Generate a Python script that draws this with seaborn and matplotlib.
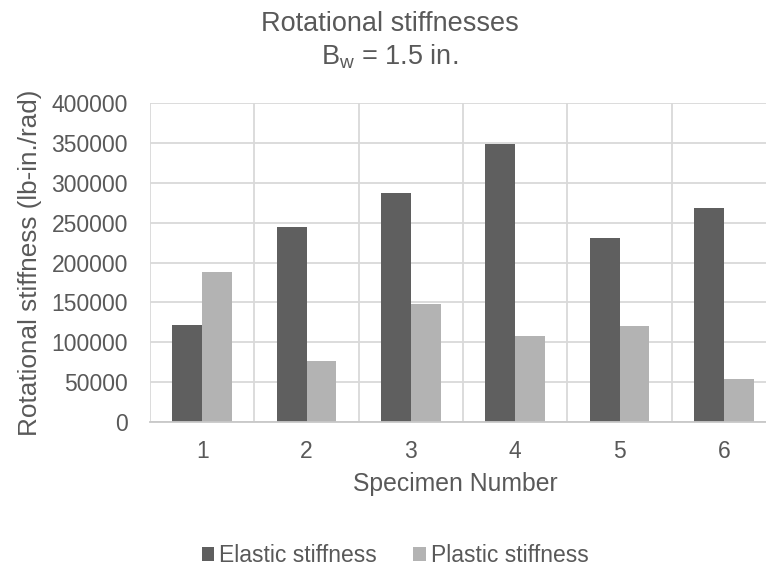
import matplotlib
matplotlib.use("Agg")
import matplotlib.pyplot as plt
from matplotlib.patches import Patch
from matplotlib.ticker import FixedLocator
import seaborn as sns
import pandas as pd

# Rotational stiffness per specimen (lb-in./rad)
specimens = ["1", "2", "3", "4", "5", "6"]
elastic = [122000, 244000, 287500, 348500, 231000, 268500]
plastic = [188500, 76000, 147500, 107500, 121000, 53500]
series_names = ["Elastic stiffness", "Plastic stiffness"]
y_ticks = [0, 50000, 100000, 150000, 200000, 250000, 300000, 350000, 400000]

df = pd.DataFrame({
    "Specimen": specimens * 2,
    "Stiffness": elastic + plastic,
    "Series": [series_names[0]] * len(specimens) + [series_names[1]] * len(specimens),
})

sns.set_theme(style="white")
plt.rcParams["font.family"] = ["Liberation Sans", "DejaVu Sans"]
plt.rcParams["mathtext.fontset"] = "custom"
plt.rcParams["mathtext.rm"] = "Liberation Sans"

TEXT = "#595959"
GRID = "#d9d9d9"
palette = {series_names[0]: "#5f5f5f", series_names[1]: "#b3b3b3"}

fig = plt.figure(figsize=(7.66, 5.71), dpi=100)
ax = fig.add_axes([150 / 766, 1 - 422 / 571, 626 / 766, 319 / 571])

sns.barplot(data=df, x="Specimen", y="Stiffness", hue="Series", palette=palette,
            width=0.57, gap=0, saturation=1, linewidth=0, legend=False, ax=ax)

ax.set_xlim(-0.5, len(specimens) - 0.5)
ax.set_ylim(0, 400000)
ax.set_yticks(y_ticks)
ax.set_yticklabels([str(v) for v in y_ticks])
ax.xaxis.set_minor_locator(FixedLocator([i - 0.5 for i in range(len(specimens) + 1)]))
ax.grid(True, axis="y", which="major", color=GRID, linewidth=1.3)
ax.grid(True, axis="x", which="minor", color=GRID, linewidth=1.3)
ax.set_axisbelow(True)
ax.tick_params(axis="both", which="both", length=0, labelsize=16.5, colors=TEXT)
ax.tick_params(axis="x", pad=13)
ax.tick_params(axis="y", pad=16)

for side in ["top", "right", "left"]:
    ax.spines[side].set_visible(False)
ax.spines["bottom"].set_color("#c8c8c8")
ax.spines["bottom"].set_linewidth(1.3)

ax.set_xlabel("Specimen Number", fontsize=17.8, color=TEXT)
ax.xaxis.set_label_coords((455 - 150) / 626, -(484 - 422) / 319)
ax.xaxis.label.set_verticalalignment("center")
ax.set_ylabel("Rotational stiffness (lb-in./rad)", fontsize=18.8, color=TEXT, labelpad=7)

title_x = 390 / 766
fig.text(title_x, 1 - 24 / 571, "Rotational stiffnesses",
         ha="center", va="center", fontsize=19.5, color=TEXT)
fig.text(title_x, 1 - 57 / 571, r"$\mathregular{B_w}$ = 1.5 in.",
         ha="center", va="center", fontsize=19.5, color=TEXT)

handles = [Patch(facecolor=palette[n], edgecolor="none", label=n) for n in series_names]
fig.legend(handles=handles, loc="center", bbox_to_anchor=(395 / 766, 1 - 556 / 571),
           ncol=2, frameon=False, fontsize=16.5, labelcolor=TEXT,
           handlelength=0.55, handleheight=0.55, handletextpad=0.2, columnspacing=1.6)

fig.savefig("out.png", dpi=100)
